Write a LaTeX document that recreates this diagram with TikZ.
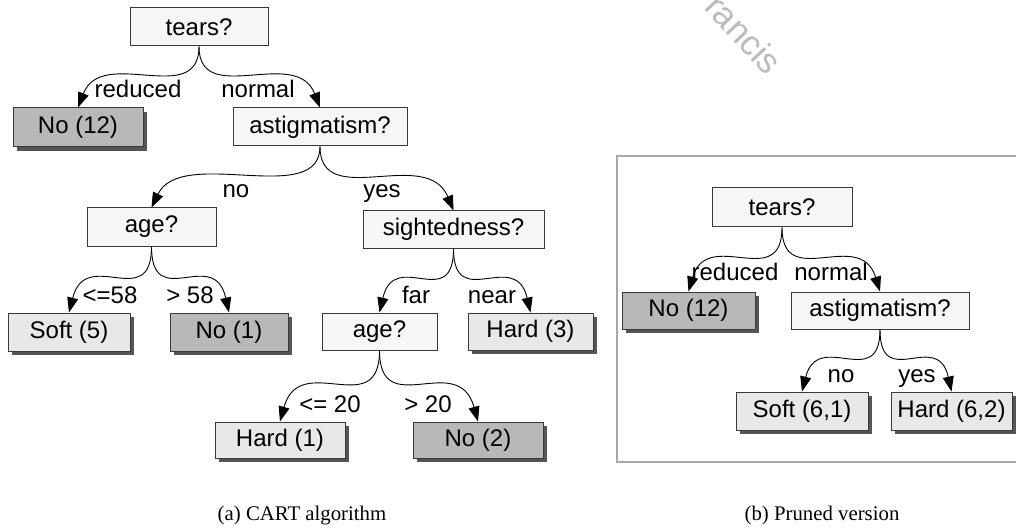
\documentclass[tikz,border=0pt]{standalone}
\usepackage{fontspec}
\setmainfont{Liberation Serif}
\newfontfamily\arialfont{Liberation Sans}
\usetikzlibrary{arrows.meta,shadows,calc}
\definecolor{bord}{HTML}{3A3A3A}
\definecolor{decfill}{HTML}{F6F6F6}
\definecolor{leaffill}{HTML}{E8E8E8}
\definecolor{nofill}{HTML}{B8B8B8}
\definecolor{shadowc}{HTML}{555555}
\definecolor{framec}{HTML}{A8A8A8}
\definecolor{wmark}{HTML}{BBBBBB}
\newcommand\tedge[4]{\draw[arr] (#1.south) .. controls ($(#1.south)+(0,#3)$) and ($(#2.north)+(#4,-#3)$) .. (#2.north);}
\begin{document}
\begin{tikzpicture}[x=1pt,y=-1pt,
  box/.style 2 args={draw=bord, line width=1pt, inner sep=0pt, minimum width=#1pt, minimum height=#2pt, font=\arialfont\fontsize{24}{28}\selectfont},
  dec/.style={fill=decfill},
  leaf/.style={fill=leaffill, drop shadow={shadow xshift=4pt, shadow yshift=-4pt, shadow scale=1, fill=shadowc, opacity=1}},
  noleaf/.style={fill=nofill, drop shadow={shadow xshift=4pt, shadow yshift=-4pt, shadow scale=1, fill=shadowc, opacity=1}},
  lbl/.style={anchor=base, inner sep=0pt, font=\arialfont\fontsize{24}{28}\selectfont},
  captext/.style={anchor=base, inner sep=0pt, font=\fontsize{20.8}{24}\selectfont},
  arr/.style={line width=0.9pt, draw=black, -{Triangle[length=15pt,width=11pt]}},
]
\useasboundingbox (0,0) rectangle (1016,529);
\clip (0,0) rectangle (1016,529);
\fill[white] (0,0) rectangle (1016,529);

% watermark
\node[wmark, rotate=-47, inner sep=0pt, font=\arialfont\fontsize{35}{40}\selectfont] (wm) at (744,34) {rancis};

% (a) CART algorithm
\node[box={138}{38}, dec] (tears) at (199,27) {tears?};
\node[box={130}{39}, noleaf] (no12) at (78,127.5) {No (12)};
\node[box={174}{38}, dec] (astig) at (320,127) {astigmatism?};
\node[box={129}{38}, dec] (age) at (151.5,227) {age?};
\node[box={181}{37}, dec] (sight) at (453.5,229.5) {sightedness?};
\node[box={122}{38}, leaf] (soft5) at (69,332) {Soft (5)};
\node[box={118}{38}, noleaf] (no1) at (229,332) {No (1)};
\node[box={115}{37}, dec] (age2) at (379.5,331.5) {age?};
\node[box={125}{37}, leaf] (hard3) at (530.5,331.5) {Hard (3)};
\node[box={130}{36}, leaf] (hard1) at (280,440) {Hard (1)};
\node[box={130}{36}, noleaf] (no2) at (478,440) {No (2)};

\tedge{tears}{no12}{62}{24}
\tedge{tears}{astig}{62}{-24}
\tedge{astig}{age}{62}{30}
\tedge{astig}{sight}{65}{-27}
\tedge{age}{soft5}{67}{17}
\tedge{age}{no1}{67}{-15}
\tedge{sight}{age2}{65}{15}
\tedge{sight}{hard3}{65}{-15}
\tedge{age2}{hard1}{72}{20}
\tedge{age2}{no2}{72}{-20}

\node[lbl] (lreduced) at (138,98) {reduced};
\node[lbl] (lnormal) at (258,98) {normal};
\node[lbl] (lno) at (236,198) {no};
\node[lbl] (lyes) at (382,198) {yes};
\node[lbl] (lle58) at (110,303) {<=58};
\node[lbl] (lgt58) at (190,303) {> 58};
\node[lbl] (lfar) at (416,303) {far};
\node[lbl] (lnear) at (492,303) {near};
\node[lbl] (lle20) at (330,412) {<= 20};
\node[lbl] (lgt20) at (428,412) {> 20};

\node[captext] (capa) at (302,520) {(a) CART algorithm};

% (b) Pruned version
\draw[framec, line width=2pt] (617,156) rectangle (1040,462);
\node[box={140}{39}, dec] (tearsb) at (782,207.5) {tears?};
\node[box={133}{37}, noleaf] (nob) at (688.5,310.5) {No (12)};
\node[box={178}{37}, dec] (astigb) at (880,310.5) {astigmatism?};
\node[box={132}{38}, leaf] (soft61) at (802,411) {Soft (6,1)};
\node[box={121}{38}, leaf] (hard62) at (951.5,411) {Hard (6,2)};

\tedge{tearsb}{nob}{65}{19}
\tedge{tearsb}{astigb}{65}{-20}
\tedge{astigb}{soft61}{63}{16}
\tedge{astigb}{hard62}{63}{-14}

\node[lbl] (lreducedb) at (735,280) {reduced};
\node[lbl] (lnormalb) at (831,280) {normal};
\node[lbl] (lnob) at (841,382) {no};
\node[lbl] (lyesb) at (917,382) {yes};

\node[captext] (capb) at (822,520) {(b) Pruned version};
\end{tikzpicture}
\end{document}
